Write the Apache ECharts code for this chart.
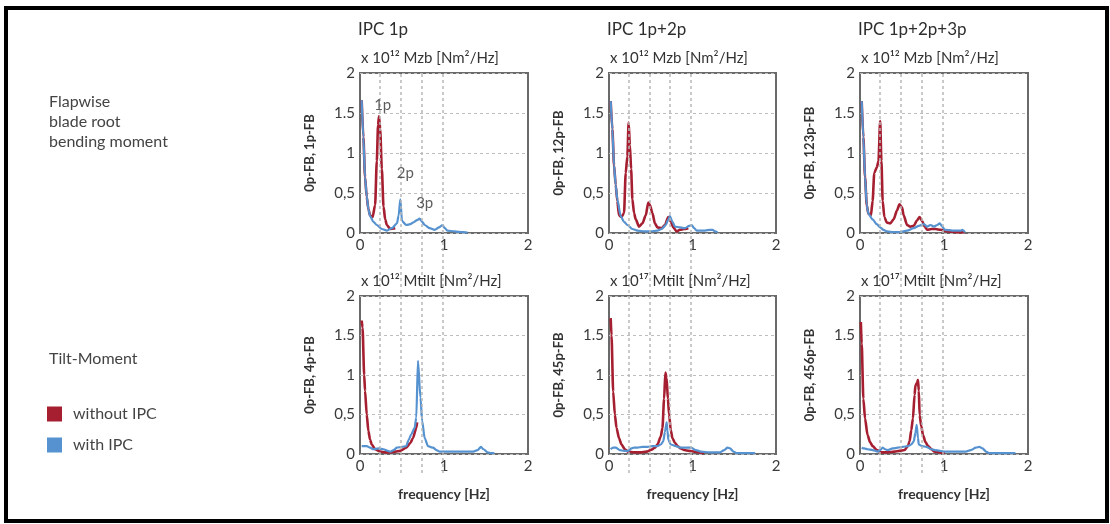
<!DOCTYPE html>
<html><head><meta charset="utf-8">
<script src="https://cdn.jsdelivr.net/npm/echarts@6/dist/echarts.min.js"></script>
<style>
html,body{margin:0;padding:0;background:#fff}
#c{width:1110px;height:524px}
#frame{position:absolute;left:4px;top:6px;width:1097px;height:509px;border:4px solid #000;pointer-events:none}
</style>
</head><body><div id="c"></div><div id="frame"></div>
<script>
// ---------- data ----------
const columnTitles = ['IPC 1p', 'IPC 1p+2p', 'IPC 1p+2p+3p'];
const rowSubtitles = [
  ['x 10¹² Mzb [Nm²/Hz]', 'x 10¹² Mzb [Nm²/Hz]', 'x 10¹² Mzb [Nm²/Hz]'],
  ['x 10¹² Mtilt [Nm²/Hz]', 'x 10¹⁷ Mtilt [Nm²/Hz]', 'x 10¹⁷ Mtilt [Nm²/Hz]']
];
const yAxisNames = ['0p-FB, 1p-FB', '0p-FB, 12p-FB', '0p-FB, 123p-FB', '0p-FB, 4p-FB', '0p-FB, 45p-FB', '0p-FB, 456p-FB'];
const rowLabels = [['Flapwise', 'blade root', 'bending moment'], ['Tilt-Moment']];
const seriesNames = ['without IPC', 'with IPC'];
const xTickValues = [0, 1, 2];
const yTickLabels = ['0', '0,5', '1', '1.5', '2'];
const harmonicFreqs = [0.245, 0.49, 0.735, 0.98];
const annotationText = ['1p', '2p', '3p'];
const annotationPos = [[0.27, 1.6], [0.54, 0.75], [0.77, 0.375]];
const xAxisName = 'frequency [Hz]';

// panel 1: IPC 1p, flapwise
const p1Red = [[0.02,1.66],[0.04,1.2],[0.06,0.7],[0.08,0.45],[0.1,0.3],[0.12,0.22],[0.15,0.2],[0.18,0.35],[0.2,0.9],[0.215,1.35],[0.226,1.46],[0.24,1.3],[0.26,0.8],[0.28,0.33],[0.3,0.17],[0.32,0.1],[0.36,0.05],[0.42,0.06]];
const p1Blue = [[0.02,1.66],[0.04,1.2],[0.06,0.7],[0.08,0.46],[0.1,0.3],[0.12,0.21],[0.16,0.14],[0.2,0.1],[0.26,0.05],[0.32,0.03],[0.38,0.06],[0.44,0.12],[0.46,0.22],[0.48,0.42],[0.5,0.15],[0.55,0.1],[0.6,0.11],[0.63,0.13],[0.68,0.16],[0.71,0.18],[0.74,0.14],[0.77,0.1],[0.83,0.06],[0.89,0.04],[0.94,0.07],[0.98,0.1],[1.01,0.06],[1.04,0.03],[1.12,0.02],[1.23,0.01],[1.28,0.005]];
// panel 2: IPC 1p+2p, flapwise
const p2Red = [[0.02,1.65],[0.04,1.3],[0.06,0.85],[0.08,0.6],[0.1,0.4],[0.12,0.22],[0.15,0.2],[0.18,0.25],[0.2,0.75],[0.22,0.96],[0.235,1.38],[0.25,1.1],[0.265,0.8],[0.28,0.42],[0.3,0.25],[0.32,0.17],[0.36,0.08],[0.4,0.12],[0.44,0.22],[0.47,0.38],[0.49,0.35],[0.52,0.25],[0.55,0.12],[0.58,0.07],[0.63,0.06],[0.67,0.1],[0.71,0.2],[0.74,0.14],[0.77,0.07],[0.81,0.02],[0.85,0.04],[0.9,0.05],[0.95,0.06]];
const p2Blue = [[0.02,1.65],[0.04,1.3],[0.06,0.85],[0.08,0.6],[0.1,0.42],[0.14,0.21],[0.18,0.14],[0.22,0.1],[0.28,0.05],[0.34,0.03],[0.42,0.02],[0.5,0.02],[0.58,0.03],[0.63,0.05],[0.68,0.1],[0.71,0.17],[0.73,0.21],[0.76,0.14],[0.79,0.08],[0.85,0.07],[0.91,0.06],[0.96,0.09],[0.99,0.1],[1.02,0.06],[1.05,0.03],[1.15,0.03],[1.21,0.04],[1.24,0.04],[1.27,0.02],[1.3,0.01]];
// panel 3: IPC 1p+2p+3p, flapwise
const p3Red = [[0.02,1.65],[0.04,1.2],[0.06,0.7],[0.08,0.35],[0.1,0.24],[0.13,0.22],[0.15,0.4],[0.17,0.75],[0.2,0.82],[0.22,0.9],[0.24,1.4],[0.255,0.9],[0.27,0.4],[0.29,0.2],[0.32,0.13],[0.36,0.12],[0.4,0.17],[0.44,0.28],[0.47,0.36],[0.5,0.32],[0.52,0.22],[0.56,0.1],[0.6,0.08],[0.64,0.09],[0.68,0.16],[0.71,0.2],[0.74,0.15],[0.77,0.08],[0.8,0.04],[0.85,0.05],[0.9,0.05],[0.96,0.04],[1.04,0.02],[1.15,0.01],[1.25,0.01]];
const p3Blue = [[0.02,1.65],[0.04,1.2],[0.06,0.7],[0.08,0.35],[0.1,0.24],[0.15,0.17],[0.2,0.11],[0.24,0.07],[0.28,0.04],[0.32,0.02],[0.4,0.01],[0.48,0.01],[0.56,0.03],[0.64,0.06],[0.7,0.09],[0.76,0.11],[0.8,0.08],[0.84,0.1],[0.88,0.08],[0.92,0.1],[0.95,0.12],[0.98,0.08],[1.01,0.04],[1.1,0.03],[1.2,0.03],[1.22,0.04],[1.25,0.01]];
// panel 4: IPC 1p, tilt
const p4Red = [[0.02,1.69],[0.03,1.6],[0.05,1.0],[0.06,0.8],[0.08,0.5],[0.1,0.29],[0.12,0.18],[0.14,0.12],[0.18,0.06],[0.24,0.03],[0.3,0.02],[0.36,0.02],[0.42,0.03],[0.48,0.04],[0.55,0.08],[0.6,0.14],[0.63,0.2],[0.67,0.33],[0.68,0.4]];
const p4Blue = [[0.02,0.1],[0.04,0.1],[0.08,0.1],[0.12,0.08],[0.16,0.06],[0.22,0.07],[0.28,0.06],[0.33,0.04],[0.36,0.03],[0.4,0.05],[0.44,0.08],[0.5,0.09],[0.55,0.1],[0.58,0.18],[0.61,0.25],[0.65,0.33],[0.67,0.46],[0.69,1.18],[0.72,0.71],[0.74,0.42],[0.77,0.2],[0.81,0.1],[0.87,0.08],[0.91,0.05],[0.95,0.03],[1.05,0.03],[1.2,0.03],[1.35,0.03],[1.4,0.05],[1.44,0.09],[1.47,0.06],[1.52,0.02],[1.56,0.01],[1.6,0.01]];
// panel 5: IPC 1p+2p, tilt
const p5Red = [[0.02,1.72],[0.03,1.5],[0.05,0.79],[0.07,0.5],[0.09,0.33],[0.12,0.2],[0.15,0.12],[0.19,0.06],[0.23,0.03],[0.3,0.02],[0.38,0.02],[0.45,0.03],[0.5,0.05],[0.55,0.08],[0.58,0.12],[0.62,0.22],[0.64,0.33],[0.66,0.7],[0.675,1.03],[0.69,0.96],[0.705,0.7],[0.72,0.5],[0.74,0.3],[0.76,0.2],[0.79,0.14],[0.82,0.1],[0.86,0.07],[0.9,0.05],[0.96,0.04],[1.02,0.03],[1.08,0.02],[1.14,0.01]];
const p5Blue = [[0.02,0.06],[0.05,0.08],[0.08,0.08],[0.13,0.05],[0.18,0.04],[0.23,0.04],[0.27,0.07],[0.3,0.08],[0.34,0.08],[0.4,0.09],[0.46,0.09],[0.52,0.1],[0.58,0.1],[0.62,0.12],[0.65,0.16],[0.67,0.28],[0.69,0.4],[0.7,0.3],[0.71,0.18],[0.74,0.12],[0.8,0.1],[0.86,0.08],[0.92,0.08],[0.98,0.08],[1.04,0.05],[1.1,0.03],[1.2,0.02],[1.33,0.02],[1.38,0.05],[1.42,0.08],[1.45,0.07],[1.49,0.03],[1.53,0.01],[1.65,0.01],[1.75,0.01]];
// panel 6: IPC 1p+2p+3p, tilt
const p6Red = [[0.01,1.67],[0.02,1.4],[0.04,0.7],[0.06,0.45],[0.09,0.24],[0.12,0.15],[0.15,0.1],[0.2,0.05],[0.25,0.02],[0.33,0.02],[0.41,0.03],[0.47,0.04],[0.53,0.05],[0.57,0.1],[0.59,0.16],[0.61,0.3],[0.63,0.45],[0.65,0.75],[0.66,0.87],[0.68,0.9],[0.69,0.94],[0.7,0.8],[0.71,0.49],[0.73,0.35],[0.75,0.24],[0.78,0.15],[0.81,0.1],[0.85,0.06],[0.89,0.03],[0.95,0.02],[1.01,0.01]];
const p6Blue = [[0.02,0.08],[0.05,0.07],[0.09,0.06],[0.15,0.05],[0.21,0.03],[0.24,0.05],[0.27,0.08],[0.3,0.06],[0.33,0.05],[0.39,0.07],[0.45,0.08],[0.51,0.09],[0.57,0.1],[0.61,0.12],[0.64,0.16],[0.66,0.27],[0.675,0.37],[0.69,0.2],[0.7,0.12],[0.74,0.1],[0.79,0.09],[0.85,0.06],[0.89,0.05],[0.95,0.04],[1.01,0.03],[1.15,0.03],[1.26,0.03],[1.32,0.05],[1.38,0.08],[1.42,0.09],[1.46,0.07],[1.5,0.03],[1.54,0.01],[1.7,0.01],[1.85,0.01]];

const redData = [p1Red, p2Red, p3Red, p4Red, p5Red, p6Red];
const blueData = [p1Blue, p2Blue, p3Blue, p4Blue, p5Blue, p6Blue];

// ---------- layout / style ----------
const FONT = 'Lato';
const RED = '#a51f31';
const BLUE = '#5592cf';
const TXT = '#3a3a3a';
const colLeft = [360, 609, 860];
const colWidth = [168, 167, 168];
const rowTop = [73, 296];
const rowHeight = [160, 158];

const grid = [], xAxis = [], yAxis = [], series = [], title = [], graphic = [];

for (let i = 0; i < 6; i++) {
  const r = Math.floor(i / 3), c = i % 3;
  grid.push({ left: colLeft[c], top: rowTop[r], width: colWidth[c], height: rowHeight[r],
    show: true, borderColor: '#6a6a6a', borderWidth: 2, backgroundColor: 'transparent', containLabel: false });
  xAxis.push({ gridIndex: i, type: 'value', min: 0, max: 2, interval: 1,
    axisLine: { show: false }, axisTick: { show: false }, splitLine: { show: false },
    axisLabel: { color: TXT, fontSize: 15, fontFamily: FONT, margin: 5, customValues: xTickValues },
    name: r === 1 ? xAxisName : '', nameLocation: 'middle', nameGap: 33,
    nameTextStyle: { color: '#333', fontSize: 14, fontFamily: FONT, fontWeight: 'bold' } });
  yAxis.push({ gridIndex: i, type: 'value', min: 0, max: 2, interval: 0.5,
    axisLine: { show: false }, axisTick: { show: false },
    splitLine: { show: true, lineStyle: { color: '#bdbdbd', type: [3, 3], width: 1 } },
    axisLabel: { color: TXT, fontSize: 15, fontFamily: FONT, margin: 5,
      formatter: v => yTickLabels[Math.round(v / 0.5)] },
    name: yAxisNames[i], nameLocation: 'middle', nameGap: 44, nameRotate: 90,
    nameTextStyle: { color: '#333', fontSize: 13, fontFamily: FONT, fontWeight: 'bold' } });
  series.push({ name: seriesNames[0], type: 'line', xAxisIndex: i, yAxisIndex: i, data: redData[i],
    showSymbol: false, smooth: 0.25, smoothMonotone: 'x', z: 3,
    lineStyle: { color: RED, width: 2.6 }, itemStyle: { color: RED } });
  series.push({ name: seriesNames[1], type: 'line', xAxisIndex: i, yAxisIndex: i, data: blueData[i],
    showSymbol: false, smooth: 0.25, smoothMonotone: 'x', z: 4,
    lineStyle: { color: BLUE, width: 2.2 }, itemStyle: { color: BLUE } });
  title.push({ text: rowSubtitles[r][c], left: colLeft[c] + 1, top: rowTop[r] - 22, padding: 0,
    textStyle: { color: '#333', fontSize: 15, fontWeight: 'normal', fontFamily: FONT } });
}
// column-spanning grids for harmonic frequency markers
for (let c = 0; c < 3; c++) {
  const gi = 6 + c;
  grid.push({ left: colLeft[c], top: rowTop[0], width: colWidth[c], height: 400, show: false });
  xAxis.push({ gridIndex: gi, type: 'value', min: 0, max: 2, show: false });
  yAxis.push({ gridIndex: gi, type: 'value', min: 0, max: 1, show: false });
  series.push({ type: 'line', xAxisIndex: gi, yAxisIndex: gi, data: [], z: 1, silent: true,
    markLine: { silent: true, symbol: ['none', 'none'], label: { show: false },
      lineStyle: { color: '#b8b8b8', type: [3, 3], width: 1.5 },
      data: harmonicFreqs.map(f => ({ xAxis: f })) } });
  title.push({ text: columnTitles[c], left: colLeft[c] - 2, top: 21, padding: 0,
    textStyle: { color: '#2e2e2e', fontSize: 17, fontWeight: 'normal', fontFamily: FONT } });
}
// harmonic annotations in first panel
series.push({ type: 'scatter', xAxisIndex: 0, yAxisIndex: 0, symbolSize: 0, z: 5, silent: true,
  data: annotationPos.map((p, k) => ({ value: p, name: annotationText[k] })),
  label: { show: true, position: 'inside', formatter: '{b}', color: '#333', fontSize: 15, fontFamily: FONT } });

// row labels
rowLabels[0].forEach((t, k) => graphic.push({ type: 'text', left: 49, top: 94 + k * 20,
  style: { text: t, fill: '#444', fontSize: 16, fontFamily: FONT } }));
rowLabels[1].forEach((t, k) => graphic.push({ type: 'text', left: 49, top: 351 + k * 20,
  style: { text: t, fill: '#444', fontSize: 16, fontFamily: FONT } }));

const chart = echarts.init(document.getElementById('c'), null, { renderer: 'canvas' });
chart.setOption({
  animation: false,
  backgroundColor: '#fff',
  title, grid, xAxis, yAxis, series, graphic,
  legend: { data: seriesNames, orient: 'vertical', left: 47, top: 406, icon: 'rect',
    itemWidth: 15, itemHeight: 15, itemGap: 15, padding: 0,
    textStyle: { color: '#444', fontSize: 16, fontFamily: FONT, padding: [0, 0, 0, 6] } }
});
</script></body></html>
